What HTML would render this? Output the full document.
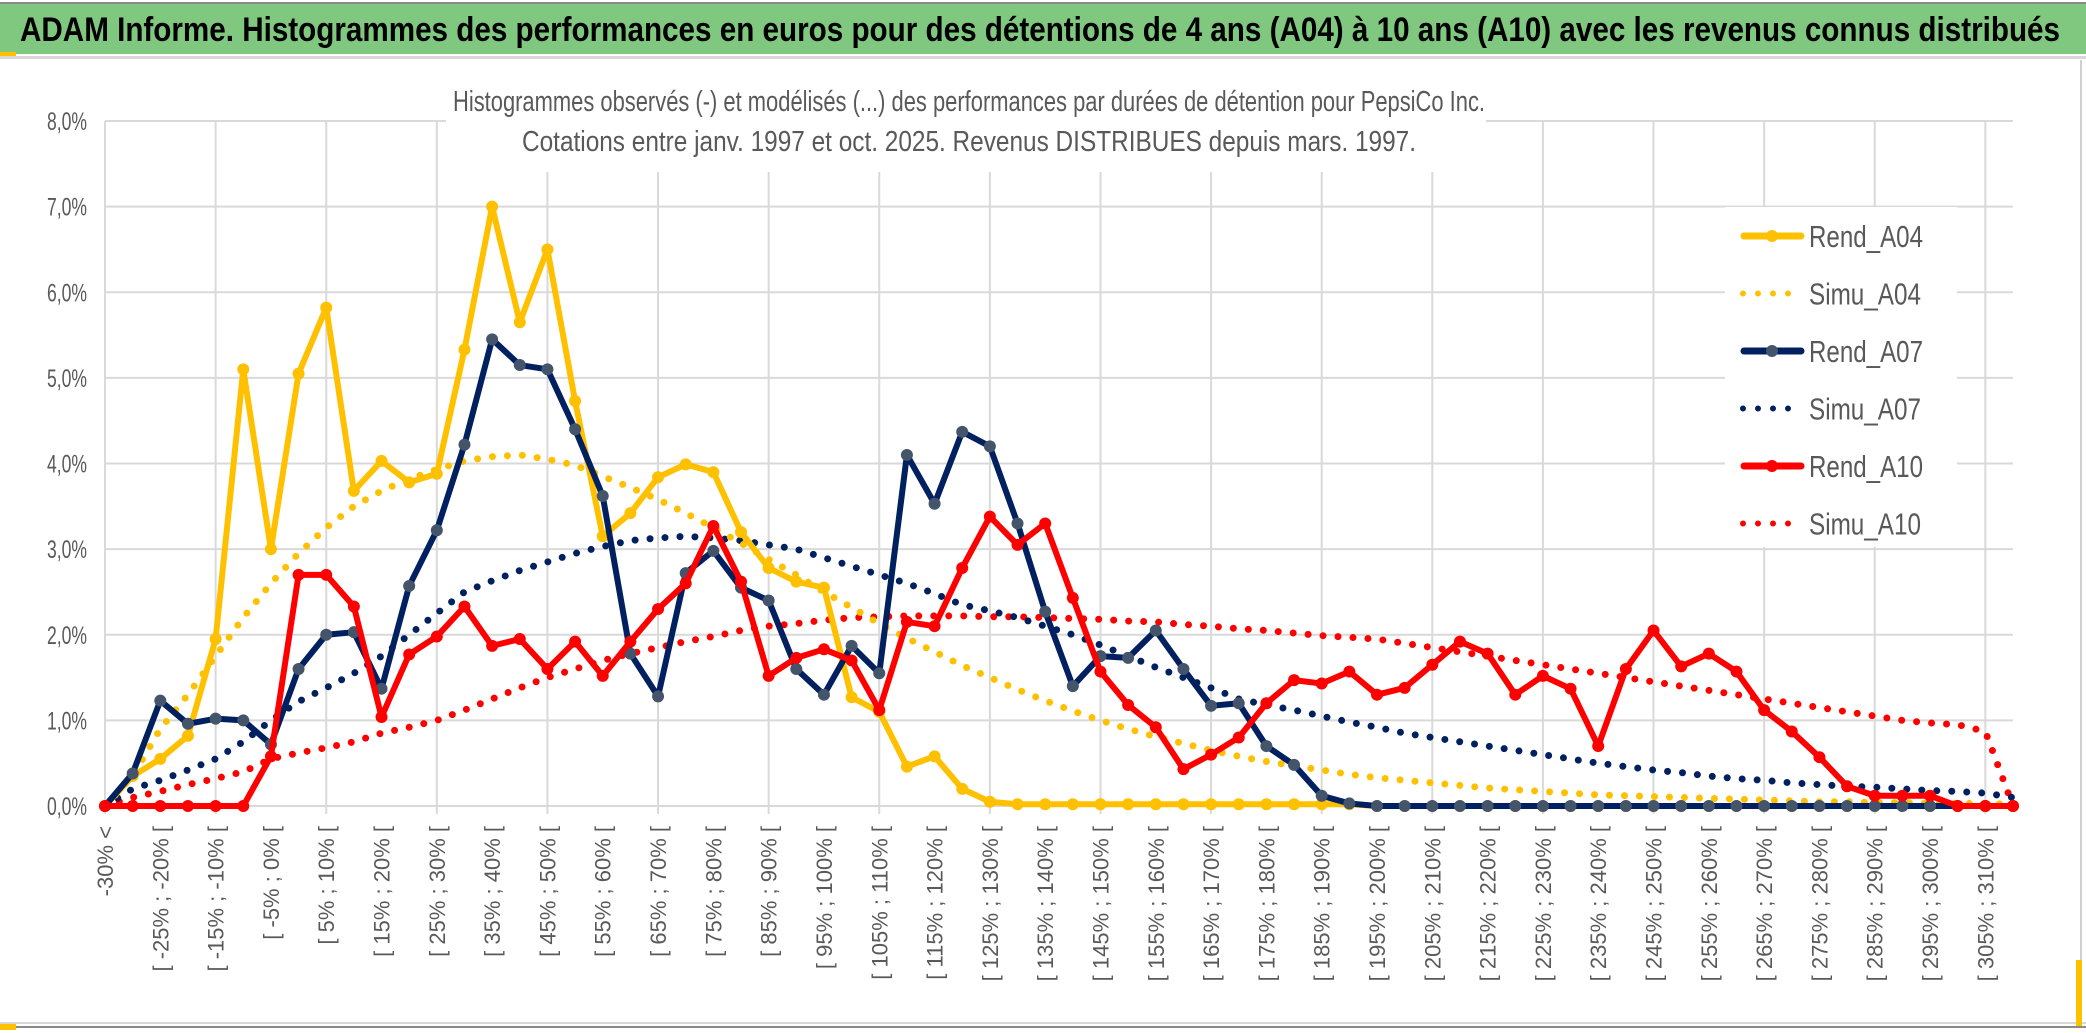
<!DOCTYPE html>
<html><head><meta charset="utf-8"><style>
html,body{margin:0;padding:0;background:#fff;}
svg{display:block;font-family:"Liberation Sans Narrow","Liberation Sans",sans-serif;}
</style></head><body>
<svg id="chart" width="2086" height="1033" viewBox="0 0 2086 1033">
<rect x="0" y="0" width="2086" height="1033" fill="#fff"/>
<rect x="0" y="2" width="2086" height="2" fill="#8a8a8a"/>
<rect x="0" y="4" width="2086" height="50" fill="#80c880"/>
<rect x="0" y="52" width="16" height="4" fill="#ffc000"/>
<rect x="0" y="56" width="2086" height="3" fill="#d8d8d8"/>
<text x="20" y="41" font-size="34" font-weight="bold" fill="#000" textLength="2040" lengthAdjust="spacingAndGlyphs">ADAM Informe. Histogrammes des performances en euros pour des détentions de 4 ans (A04) à 10 ans (A10) avec les revenus connus distribués</text>
<rect x="0" y="1022" width="2086" height="2" fill="#d8d8d8"/>
<rect x="0" y="1026" width="2086" height="2" fill="#8a8a8a"/>
<rect x="0" y="1024" width="16" height="6" fill="#ffc000"/>
<rect x="2080" y="60" width="2" height="962" fill="#d0d0d0"/>
<rect x="2076" y="960" width="6" height="66" fill="#ffc000"/>
<g id="grid"></g>
<g id="series"></g>
<g id="xlabels"></g>
<g id="ylabels"></g>
<rect x="446" y="78" width="1040" height="94" fill="#fff"/>
<text x="969" y="111" font-size="29" fill="#595959" text-anchor="middle" textLength="1032" lengthAdjust="spacingAndGlyphs">Histogrammes observés (-) et modélisés (...) des performances par durées de détention pour PepsiCo Inc.</text>
<text x="969" y="151" font-size="29" fill="#595959" text-anchor="middle" textLength="894" lengthAdjust="spacingAndGlyphs">Cotations entre janv. 1997 et oct. 2025. Revenus DISTRIBUES depuis mars. 1997.</text>
<g id="legend"></g>
</svg>
<script>
const categories = [];
categories.push('-30% <');
for (let k = 1; k < 70; k++) { const a = -30 + 5*(k-1); categories.push('[ ' + a + '% ; ' + (a+5) + '% ['); }
const rendA04 = [0,0.35,0.55,0.82,1.95,5.1,3.0,5.05,5.82,3.68,4.03,3.78,3.88,5.33,7.0,5.65,6.5,4.73,3.15,3.42,3.84,3.99,3.9,3.2,2.78,2.62,2.55,1.27,1.1,0.46,0.58,0.2,0.05,0.02,0.02,0.02,0.02,0.02,0.02,0.02,0.02,0.02,0.02,0.02,0.02,0.02,0,0,0,0,0,0,0,0,0,0,0,0,0,0,0,0,0,0,0,0,0,0,0,0];
const simuA04 = [0,0.35,0.9,1.3,1.75,2.2,2.6,2.95,3.25,3.5,3.68,3.82,3.93,4.03,4.08,4.1,4.05,3.98,3.85,3.72,3.58,3.42,3.25,3.07,2.88,2.7,2.5,2.32,2.13,1.96,1.8,1.64,1.5,1.36,1.23,1.11,1.0,0.9,0.81,0.73,0.65,0.58,0.52,0.47,0.42,0.37,0.33,0.3,0.27,0.24,0.21,0.19,0.17,0.15,0.13,0.12,0.11,0.1,0.09,0.08,0.07,0.06,0.05,0.05,0.04,0.04,0.03,0.03,0.03,0.02];
const rendA07 = [0,0.38,1.23,0.96,1.02,1.0,0.72,1.6,2.0,2.03,1.37,2.57,3.22,4.22,5.45,5.15,5.1,4.4,3.62,1.78,1.28,2.72,2.98,2.55,2.4,1.6,1.3,1.87,1.55,4.1,3.53,4.37,4.2,3.3,2.27,1.4,1.75,1.73,2.05,1.6,1.17,1.2,0.7,0.48,0.12,0.03,0,0,0,0,0,0,0,0,0,0,0,0,0,0,0,0,0,0,0,0,0,0,0,0];
const simuA07 = [0,0.2,0.3,0.42,0.55,0.75,1.0,1.22,1.38,1.55,1.75,2.0,2.25,2.5,2.63,2.75,2.85,2.95,3.03,3.1,3.13,3.15,3.13,3.1,3.05,3.0,2.9,2.8,2.7,2.6,2.48,2.35,2.28,2.2,2.1,2.0,1.88,1.75,1.62,1.5,1.38,1.25,1.18,1.12,1.05,0.98,0.92,0.85,0.8,0.75,0.7,0.65,0.6,0.55,0.5,0.46,0.42,0.39,0.35,0.32,0.3,0.27,0.25,0.23,0.22,0.2,0.18,0.17,0.15,0.1];
const rendA10 = [0,0,0,0,0,0,0.58,2.7,2.7,2.33,1.04,1.77,1.98,2.33,1.87,1.95,1.6,1.92,1.52,1.92,2.3,2.6,3.27,2.62,1.52,1.73,1.83,1.7,1.12,2.15,2.1,2.78,3.38,3.05,3.3,2.43,1.57,1.18,0.92,0.43,0.6,0.8,1.2,1.47,1.43,1.57,1.3,1.38,1.65,1.92,1.78,1.3,1.52,1.37,0.7,1.6,2.05,1.63,1.78,1.57,1.12,0.87,0.57,0.23,0.12,0.12,0.12,0,0,0];
const simuA10 = [0,0.1,0.17,0.25,0.32,0.4,0.55,0.62,0.68,0.75,0.85,0.92,1.0,1.12,1.25,1.38,1.5,1.6,1.7,1.78,1.85,1.92,1.98,2.05,2.1,2.13,2.17,2.2,2.21,2.22,2.22,2.22,2.21,2.21,2.2,2.19,2.18,2.16,2.15,2.12,2.1,2.07,2.05,2.02,1.99,1.97,1.95,1.9,1.85,1.8,1.75,1.7,1.65,1.6,1.55,1.5,1.45,1.4,1.35,1.3,1.25,1.2,1.15,1.1,1.05,1.0,0.97,0.95,0.87,0];
const yTicks = [0,1,2,3,4,5,6,7,8];
const yTickLabels = ['0,0%','1,0%','2,0%','3,0%','4,0%','5,0%','6,0%','7,0%','8,0%'];

const NS='http://www.w3.org/2000/svg';
const X0=105, X1=2013, Y0=806, Y1=121, YMAX=8;
const xs = i => X0 + (X1-X0)*i/(categories.length-1);
const ys = v => Y0 - (Y0-Y1)*v/YMAX;
function mk(tag, attrs, parent){const e=document.createElementNS(NS,tag);for(const k in attrs)e.setAttribute(k,attrs[k]);parent.appendChild(e);return e;}
const grid=document.getElementById('grid');
yTicks.forEach(t=>{const l=mk('line',{x1:X0,x2:X1,y1:ys(t),y2:ys(t),stroke:'#d9d9d9','stroke-width':2},grid);

});
for(let i=0;i<categories.length;i+=4){const l=mk('line',{x1:xs(i),x2:xs(i),y1:Y1,y2:Y0+8,stroke:'#d9d9d9','stroke-width':2},grid);

}
const yl=document.getElementById('ylabels');
yTicks.forEach((t,k)=>{const e=mk('text',{x:87,y:ys(t)+9,'font-size':25,fill:'#595959','text-anchor':'end',textLength:40,lengthAdjust:'spacingAndGlyphs'},yl);e.textContent=yTickLabels[k];

});
const xl=document.getElementById('xlabels');
categories.forEach((c,i)=>{if(i%2)return;const x=xs(i)+8,y=826;const e=mk('text',{x:x,y:y,'font-size':22,fill:'#595959','text-anchor':'end',transform:'rotate(-90 '+x+' '+y+')',style:'font-family:"Liberation Sans",sans-serif'},xl);e.textContent=c;

});
const sg=document.getElementById('series');
function dotted(data,color,name){const pts=data.map((v,i)=>xs(i)+','+ys(v)).join(' ');const p=mk('polyline',{points:pts,fill:'none',stroke:color,'stroke-width':7,'stroke-linecap':'round','stroke-dasharray':'0 15'},sg);

}
function solid(data,color,mcolor,name){const g=mk('g',{},sg);


mk('polyline',{points:data.map((v,i)=>xs(i)+','+ys(v)).join(' '),fill:'none',stroke:color,'stroke-width':6,'stroke-linejoin':'round'},g);
data.forEach((v,i)=>{const c=mk('circle',{cx:xs(i),cy:ys(v),r:6,fill:mcolor},g);

});}
dotted(simuA10,'#ff0000','simu-a10-line');
dotted(simuA07,'#002060','simu-a07-line');
dotted(simuA04,'#ffc000','simu-a04-line');
solid(rendA04,'#ffc000','#ffc000','rend-a04-line');
solid(rendA07,'#002060','#44546a','rend-a07-line');
solid(rendA10,'#ff0000','#ff0000','rend-a10-line');
const lg=document.getElementById('legend');
mk('rect',{x:1725,y:207,width:232,height:340,fill:'#fff'},lg);
const entries=[['Rend_A04','#ffc000','#ffc000',false],['Simu_A04','#ffc000',null,true],['Rend_A07','#002060','#44546a',false],['Simu_A07','#002060',null,true],['Rend_A10','#ff0000','#ff0000',false],['Simu_A10','#ff0000',null,true]];
entries.forEach((e,k)=>{const y=236+k*57.5;const g=mk('g',{},lg);


if(e[3]){mk('line',{x1:1743,x2:1790,y1:y,y2:y,stroke:e[1],'stroke-width':6,'stroke-linecap':'round','stroke-dasharray':'0 15'},g);}
else{mk('line',{x1:1744,x2:1801,y1:y,y2:y,stroke:e[1],'stroke-width':7,'stroke-linecap':'round'},g);mk('circle',{cx:1772,cy:y,r:6,fill:e[2]},g);}
const t=mk('text',{x:1809,y:y+11,'font-size':31,fill:'#595959',textLength:e[0].startsWith('Rend')?114:112,lengthAdjust:'spacingAndGlyphs'},g);t.textContent=e[0];});
</script>
</body></html>
